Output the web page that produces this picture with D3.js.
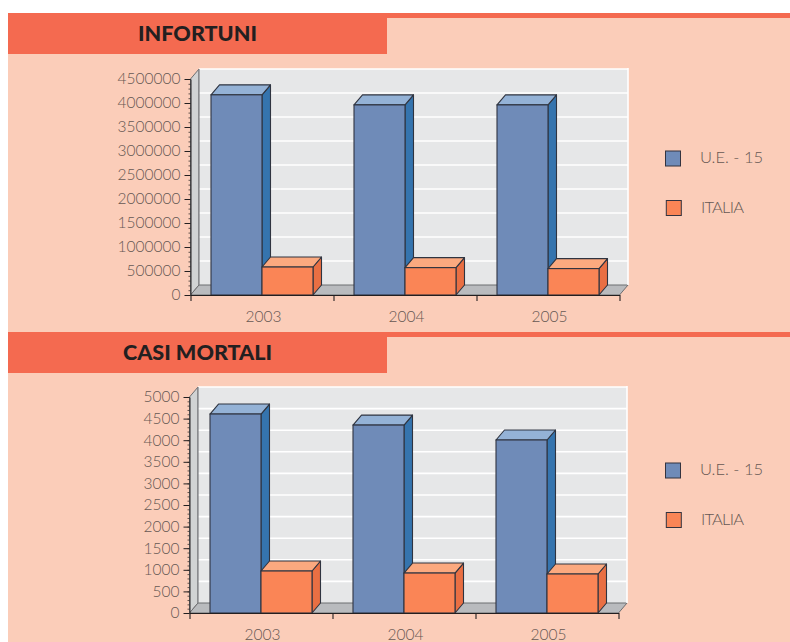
<!DOCTYPE html>
<html>
<head>
<meta charset="utf-8">
<script src="https://cdn.jsdelivr.net/npm/d3@7"></script>
<style>
    html, body { margin: 0; padding: 0; background: #fff; }
    svg { display: block; }
    text { font-family: Lato, "Open Sans", sans-serif; font-weight: 300; fill: #665853; }
    .title { font-weight: 900; fill: #231f20; font-size: 21.6px; }
    .domain, .tick line { stroke: #231f20; }
</style>
</head>
<body>
<svg id="chart" width="790" height="642"></svg>
<script>
var years = ["2003", "2004", "2005"];
var seriesNames = ["U.E. - 15", "ITALIA"];

var infortuniUE = [4170000, 3960000, 3960000];
var infortuniIT = [583000, 570000, 550000];
var infortuniTicks = [0, 500000, 1000000, 1500000, 2000000, 2500000, 3000000, 3500000, 4000000, 4500000];

var mortaliUE = [4606, 4350, 4005];
var mortaliIT = [972, 925, 903];
var mortaliTicks = [0, 500, 1000, 1500, 2000, 2500, 3000, 3500, 4000, 4500, 5000];

var colors = {
    front: ["#6f8bb8", "#fa8556"],
    top: ["#94b2d6", "#fba97f"],
    side: ["#3574ae", "#e96f43"]
};

var svg = d3.select("#chart");
var dx = 8.5, dy = 10;

function poly(g, pts, fill, stroke, sw) {
    return g.append("polygon")
        .attr("points", pts.map(function(p) { return p.join(","); }).join(" "))
        .attr("fill", fill)
        .attr("stroke", stroke || "none")
        .attr("stroke-width", sw || 0)
        .attr("stroke-linejoin", "round");
}

function drawPanel(cfg) {
    // peach block, top strip, title banner
    svg.append("rect").attr("x", 8).attr("y", cfg.panelTop).attr("width", 782).attr("height", cfg.panelH).attr("fill", "#fbcdb9");
    svg.append("rect").attr("x", 8).attr("y", cfg.panelTop).attr("width", 782).attr("height", 5).attr("fill", "#f46a50");
    svg.append("rect").attr("x", 8).attr("y", cfg.panelTop).attr("width", 379).attr("height", 41).attr("fill", "#f46a50");
    svg.append("text").attr("class", "title")
        .attr("x", cfg.titleX).attr("y", cfg.panelTop + 28)
        .attr("text-anchor", "middle")
        .text(cfg.title);

    var left = cfg.left, right = cfg.left + 429, y0 = cfg.y0, yTop = cfg.y0 - 216;

    var x = d3.scaleBand().domain(years).range([left, right]);
    var xInner = d3.scaleBand().domain(seriesNames).range([20.5, 122.5]);
    var y = d3.scaleLinear().domain([0, cfg.ticks[cfg.ticks.length - 1]]).range([y0, yTop]);

    var g = svg.append("g");

    // 3d walls
    poly(g, [[left, y0], [left + dx, y0 - dy], [left + dx, yTop - dy], [left, yTop]], "#d1d3d4", "#6d6e71", 1);
    g.append("rect").attr("x", left + dx).attr("y", yTop - dy)
        .attr("width", right - left).attr("height", y0 - yTop)
        .attr("fill", "#e6e7e8");
    poly(g, [[left, y0], [right, y0], [right + dx, y0 - dy], [left + dx, y0 - dy]], "#b9bbbe", "#6d6e71", 1);

    // gridlines on the back wall
    g.selectAll(".grid").data(cfg.ticks.slice(1)).enter().append("line")
        .attr("x1", left + dx).attr("x2", right + dx)
        .attr("y1", function(d) { return y(d) - dy; })
        .attr("y2", function(d) { return y(d) - dy; })
        .attr("stroke", "#fff").attr("stroke-width", 1.6);
    g.append("line").attr("x1", right + dx).attr("x2", right + dx)
        .attr("y1", yTop - dy - 1).attr("y2", y0 - dy)
        .attr("stroke", "#fff").attr("stroke-width", 1.6);
    g.append("line").attr("x1", left + dx).attr("x2", left + dx)
        .attr("y1", yTop - dy).attr("y2", y0 - dy)
        .attr("stroke", "#7d7e81").attr("stroke-width", 1.2);

    // bars, blue first so the orange block overlaps its side
    [cfg.ue, cfg.it].forEach(function(values, s) {
        var bars = g.selectAll(".bar" + s).data(values).enter().append("g");
        bars.each(function(d, i) {
            var b = d3.select(this);
            var x1 = x(years[i]) + xInner(seriesNames[s]);
            var x2 = x1 + xInner.bandwidth();
            var yv = y(d);
            var line = "#2f3440";
            poly(b, [[x2, y0], [x2 + dx, y0 - dy], [x2 + dx, yv - dy], [x2, yv]], colors.side[s], line, 1.1);
            poly(b, [[x1, yv], [x1 + dx, yv - dy], [x2 + dx, yv - dy], [x2, yv]], colors.top[s], line, 1.1);
            b.append("rect").attr("x", x1).attr("y", yv)
                .attr("width", x2 - x1).attr("height", y0 - yv)
                .attr("fill", colors.front[s]).attr("stroke", line).attr("stroke-width", 1.1);
        });
    });

    // axes
    var minor = d3.axisLeft(y).ticks(cfg.ticks.length * 5 - 5).tickFormat("").tickSize(2);
    var minorG = svg.append("g").attr("transform", "translate(" + left + ",0)").call(minor);
    minorG.select(".domain").remove();
    minorG.selectAll("line").attr("stroke-width", 0.7);

    var yAxis = d3.axisLeft(y).tickValues(cfg.ticks).tickFormat(d3.format("d")).tickSize(6).tickSizeOuter(0).tickPadding(4);
    var yG = svg.append("g").attr("transform", "translate(" + left + ",0)").call(yAxis);
    yG.selectAll("text").attr("font-size", 15.5);

    var boundaries = d3.scaleLinear().domain([0, 3]).range([left, right]);
    var xTickG = svg.append("g").attr("transform", "translate(0," + y0 + ")")
        .call(d3.axisBottom(boundaries).tickValues([0, 1, 2, 3]).tickFormat("").tickSize(6).tickSizeOuter(0));
    xTickG.selectAll("line").attr("stroke-width", 1.1);

    var xAxis = d3.axisBottom(x).tickSize(0).tickPadding(16);
    var xG = svg.append("g").attr("transform", "translate(1.5," + y0 + ")").call(xAxis);
    xG.select(".domain").remove();
    xG.selectAll("text").attr("font-size", 15.5);

    // legend
    seriesNames.forEach(function(name, s) {
        var ly = cfg.legendY[s];
        svg.append("rect").attr("x", 665.5 + s * 0.8).attr("y", ly)
            .attr("width", 15).attr("height", 15)
            .attr("fill", colors.front[s]).attr("stroke", "#33333f").attr("stroke-width", 1);
        svg.append("text").attr("x", 700 + s).attr("y", ly + 12)
            .attr("font-size", 16.5)
            .attr("letter-spacing", s == 1 ? -0.8 : 0)
            .text(name);
    });
}

drawPanel({
    title: "INFORTUNI", titleX: 197.5, panelTop: 13, panelH: 319,
    left: 190.5, y0: 295, ticks: infortuniTicks,
    ue: infortuniUE, it: infortuniIT, legendY: [151, 200.5]
});

drawPanel({
    title: "CASI MORTALI", titleX: 197.5, panelTop: 332, panelH: 310,
    left: 189.5, y0: 613, ticks: mortaliTicks,
    ue: mortaliUE, it: mortaliIT, legendY: [463, 512.5]
});
</script>
</body>
</html>
